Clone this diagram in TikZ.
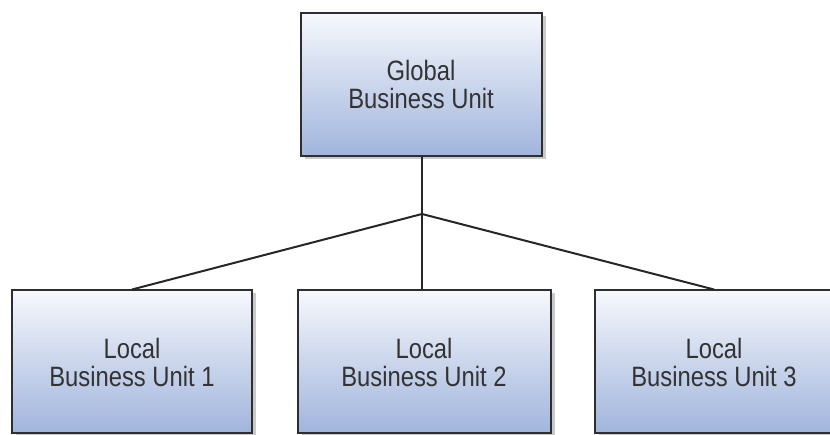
\documentclass[tikz,border=0pt]{standalone}
\usepackage{fontspec}
\setmainfont[FakeStretch=0.85]{Liberation Sans}
\usetikzlibrary{shadows}
\definecolor{unittop}{HTML}{F6F8FC}
\definecolor{unitbottom}{HTML}{A0B4DC}
\tikzset{x=1pt, y=1pt,
    unit/.style={draw=black!82, line width=2pt,
        top color=unittop, bottom color=unitbottom,
        minimum height=143pt, align=center, text=black!80,
        font=\fontsize{28}{28}\selectfont,
        drop shadow={shadow xshift=4pt, shadow yshift=-3pt, fill=black!35, opacity=.6}},
    link/.style={line width=2pt, draw=black!85},
    }
\begin{document}
\begin{tikzpicture}
\useasboundingbox (0,0) rectangle (830,435);
\node[unit, minimum width=241pt] (global) at (421,350) {Global\\Business Unit};
\node[unit, minimum width=240pt] (local1) at (132,73) {Local\\Business Unit 1};
\node[unit, minimum width=253pt] (local2) at (424,73) {Local\\Business Unit 2};
\node[unit, minimum width=238pt] (local3) at (714,73) {Local\\Business Unit 3};
\coordinate (hub) at (422,221);
% tree lines
\draw[link] (global.south -| hub) -- (hub) -- (local2.north -| hub);
\draw[link] (local1.north) -- (hub) -- (local3.north);
\end{tikzpicture}
\end{document}
